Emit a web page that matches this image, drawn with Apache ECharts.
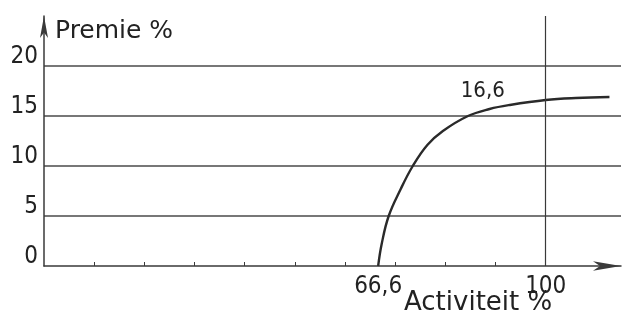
<!DOCTYPE html>
<html>
<head>
<meta charset="utf-8">
<script src="https://cdn.jsdelivr.net/npm/echarts@6/dist/echarts.min.js"></script>
<style>
  html, body { margin: 0; padding: 0; background: #fff; }
  #main { width: 625px; height: 324px; }
</style>
</head>
<body>
<div id="main"></div>
<script>
// gelezen uit de tekening
var activiteit = [66.6, 67.3, 68.7, 71.1, 73.5, 76.4, 79.5, 84.5, 88.8, 92.8, 100, 106, 112.7];
var premie = [0, 2.2, 5, 7.7, 10, 12.1, 13.5, 15, 15.7, 16.1, 16.6, 16.8, 16.9];
var xLabels = [66.6, 100];
var xTicks = [10, 20, 30, 40, 50, 60, 70, 80, 90, 100];
var yLabels = [0, 5, 10, 15, 20];
var puntLabel = '16,6';

var lijn = '#3a3a3a';
var digits = '"DejaVu Sans Condensed", "DejaVu Sans", sans-serif';

var data = activiteit.map(function (x, i) {
	var item = { value: [x, premie[i]] };
	if (x === 100) {
		item.label = {
			show: true,
			position: 'inside',
			formatter: puntLabel,
			offset: [-63, -9],
			fontFamily: digits,
			fontSize: 22,
			color: '#222'
		};
	}
	return item;
});

var chart = echarts.init(document.getElementById('main'));
chart.setOption({
	backgroundColor: '#fff',
	animation: false,
	title: {
		text: 'Activiteit %',
		left: 404,
		top: 290,
		padding: 0,
		textStyle: { fontFamily: 'DejaVu Sans', fontSize: 26, fontWeight: 'normal', color: '#222' }
	},
	grid: { left: 44, right: 4, top: 16, bottom: 58 },
	xAxis: {
		type: 'value',
		min: 0,
		max: 115,
		interval: 5,
		axisLine: {
			show: true,
			symbol: ['none', 'arrow'],
			symbolSize: [7, 28],
			lineStyle: { color: lijn, width: 1.5 }
		},
		axisTick: { show: true, inside: true, length: 4, customValues: xTicks, lineStyle: { color: lijn } },
		axisLabel: {
			customValues: xLabels,
			margin: 9,
			fontFamily: digits,
			fontSize: 24,
			color: '#222',
			formatter: function (v) { return String(v).replace('.', ','); }
		},
		splitLine: { show: false }
	},
	yAxis: {
		type: 'value',
		min: 0,
		max: 25,
		interval: 5,
		name: 'Premie %',
		nameLocation: 'end',
		nameGap: -15,
		nameTextStyle: {
			fontFamily: 'DejaVu Sans', fontSize: 25, color: '#222',
			align: 'left', verticalAlign: 'middle', padding: [0, 0, 0, 11]
		},
		axisLine: {
			show: true,
			symbol: ['none', 'arrow'],
			symbolSize: [6, 22],
			lineStyle: { color: lijn, width: 1.5 }
		},
		axisTick: { show: false },
		axisLabel: {
			customValues: yLabels,
			margin: 6,
			verticalAlign: 'bottom',
			padding: [0, 0, -3, 0],
			fontFamily: digits,
			fontSize: 24,
			color: '#222'
		},
		splitLine: {
			show: true,
			showMinLine: false,
			showMaxLine: false,
			lineStyle: { color: '#4a4a4a', width: 1.5 }
		}
	},
	series: [{
		type: 'line',
		data: data,
		smooth: 0.4,
		showSymbol: true,
		symbol: 'circle',
		symbolSize: 0,
		lineStyle: { color: '#2a2a2a', width: 2.4 },
		markLine: {
			silent: true,
			symbol: ['none', 'none'],
			label: { show: false },
			lineStyle: { color: lijn, width: 1.2, type: 'solid' },
			data: [{ xAxis: 100 }]
		}
	}]
});
</script>
</body>
</html>
